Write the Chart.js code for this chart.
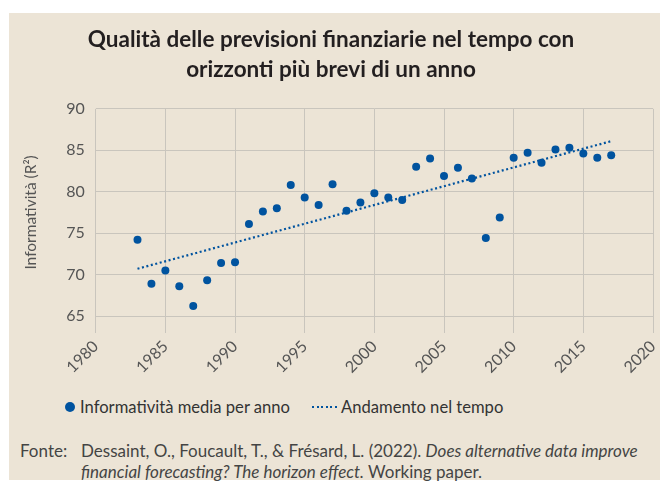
<!DOCTYPE html>
<html>
<head>
<meta charset="utf-8">
<script src="https://cdn.jsdelivr.net/npm/chart.js@4"></script>
<style>
  body { margin: 0; background: #fff; font-family: Lato, sans-serif; }
  #panel { position: absolute; left: 9px; top: 13px; width: 651px; height: 467px; background: #ece4d6; }
  #box { position: absolute; left: 0; top: 0; width: 651px; height: 380px; }
  #legend { position: absolute; left: 56px; top: 384px; height: 20px; line-height: 20px; font-size: 16.6px; color: #333; display: flex; align-items: center; white-space: nowrap; }
  .dot { width: 10px; height: 10px; border-radius: 50%; background: #00539f; margin-right: 5px; }
  .dots { width: 26px; height: 2.5px; margin: 0 3px 0 22px; background: repeating-linear-gradient(90deg, #00539f 0 2px, transparent 2px 4.5px); }
  #source { position: absolute; left: 11px; top: 427px; font-size: 17px; line-height: 21px; color: #444; white-space: nowrap; }
  #source .lab { position: absolute; left: 0; top: 0; }
  #source .txt { position: absolute; left: 61px; top: 0; }
</style>
</head>
<body>
<div id="panel">
  <div id="box"><canvas id="myChart"></canvas></div>
  <div id="legend">
    <span class="dot"></span>Informatività media per anno
    <span class="dots"></span>Andamento nel tempo
  </div>
  <div id="source">
    <span class="lab">Fonte:</span>
    <span class="txt">Dessaint, O., Foucault, T., &amp; Frésard, L. (2022). <i>Does alternative data improve</i><br><i>financial forecasting? The horizon effect.</i> Working paper.</span>
  </div>
</div>
<script>
// media annuale dell'informatività (R²)
const anni = [1983, 1984, 1985, 1986, 1987, 1988, 1989, 1990, 1991, 1992, 1993, 1994,
  1995, 1996, 1997, 1998, 1999, 2000, 2001, 2002, 2003, 2004, 2005, 2006, 2007, 2008,
  2009, 2010, 2011, 2012, 2013, 2014, 2015, 2016, 2017];
const informativita = [74.2, 68.9, 70.5, 68.6, 66.2, 69.3, 71.4, 71.5, 76.1, 77.6, 78.0, 80.8,
  79.3, 78.4, 80.9, 77.7, 78.7, 79.8, 79.3, 79.0, 83.0, 84.0, 81.9, 82.9, 81.6, 74.4,
  76.9, 84.1, 84.7, 83.5, 85.1, 85.3, 84.6, 84.1, 84.4];

// retta di tendenza (estremi)
const anniTrend = [1983, 2017];
const valoriTrend = [70.7, 86.1];

const xTicks = [1980, 1985, 1990, 1995, 2000, 2005, 2010, 2015, 2020];
const yTicks = [65, 70, 75, 80, 85, 90];

const blu = '#00539f';
const griglia = '#c9c5bd';

const punti = anni.map((a, i) => ({ x: a, y: informativita[i] }));
const trend = anniTrend.map((a, i) => ({ x: a, y: valoriTrend[i] }));

const config = {
  type: 'scatter',
  data: {
    datasets: [
      {
        label: 'Informatività media per anno',
        data: punti,
        backgroundColor: blu,
        borderWidth: 0,
        pointRadius: 4,
        pointHoverRadius: 4,
        order: 1
      },
      {
        type: 'line',
        label: 'Andamento nel tempo',
        data: trend,
        borderColor: blu,
        borderWidth: 2.2,
        borderDash: [2, 2.6],
        pointRadius: 0,
        fill: false,
        order: 2
      }
    ]
  },
  options: {
    responsive: true,
    maintainAspectRatio: false,
    animation: false,
    layout: { padding: { left: 0, right: 7, top: 0, bottom: 0 } },
    plugins: {
      legend: { display: false },
      tooltip: { enabled: false },
      title: {
        display: true,
        text: ['Qualità delle previsioni finanziarie nel tempo con', 'orizzonti più brevi di un anno'],
        color: '#231f20',
        font: { family: 'Lato', size: 22.5, weight: 'bold', lineHeight: 1.33 },
        padding: { top: 12, bottom: 24 }
      }
    },
    scales: {
      x: {
        type: 'linear',
        min: 1980,
        max: 2020,
        afterFit: s => { s.height = 77; s.paddingLeft = 0; s.paddingRight = 0; },
        afterBuildTicks: s => { s.ticks = xTicks.map(v => ({ value: v })); },
        ticks: {
          minRotation: 45,
          maxRotation: 45,
          padding: 4,
          color: '#555',
          font: { family: 'Lato', size: 16 },
          callback: v => String(v)
        },
        grid: { color: griglia, lineWidth: 1, tickLength: 17, tickColor: griglia },
        border: { display: false }
      },
      y: {
        min: 65,
        max: 90,
        afterFit: s => { s.width = 86.7; },
        afterBuildTicks: s => { s.ticks = yTicks.map(v => ({ value: v })); },
        ticks: {
          padding: 11,
          color: '#555',
          font: { family: 'Lato', size: 16 }
        },
        title: {
          display: true,
          text: 'Informatività (R²)',
          color: '#555',
          font: { family: 'Lato', size: 15.5 },
          padding: { top: 13, bottom: 0 }
        },
        grid: { color: griglia, lineWidth: 1, drawTicks: false },
        border: { display: false }
      }
    }
  }
};

const myChart = new Chart(document.getElementById('myChart'), config);
</script>
</body>
</html>
